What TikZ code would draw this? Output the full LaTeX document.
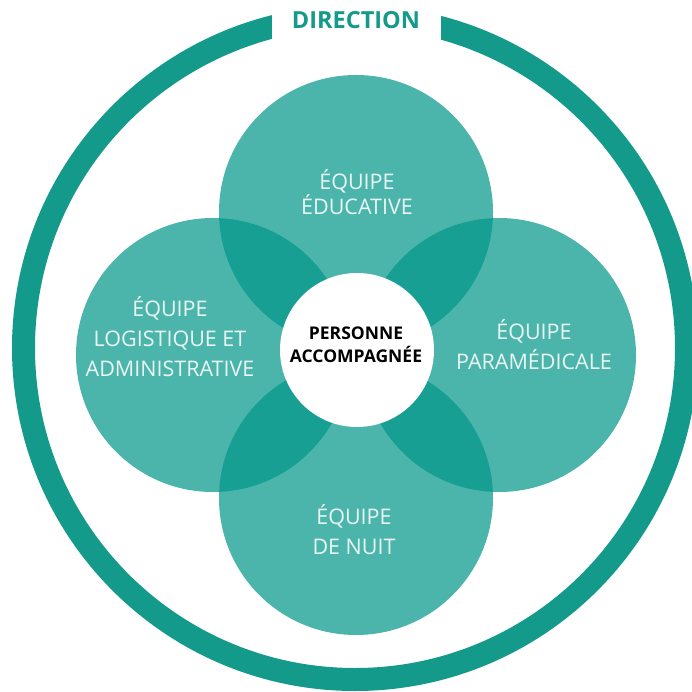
\documentclass[tikz,border=0pt]{standalone}
\usepackage{fontspec}
\setmainfont{Open Sans}
\definecolor{ringteal}{RGB}{20,154,138}
\definecolor{petalteal}{RGB}{0,150,136}
\definecolor{lighttext}{RGB}{234,246,244}
\tikzset{
	petal/.style={fill=petalteal,fill opacity=0.7},
	team/.style={align=center,text=lighttext,font=\fontsize{21.5}{30}\selectfont},
	person/.style={align=center,text=black,font=\bfseries\fontsize{17.5}{23}\selectfont},
	head/.style={text=ringteal,font=\bfseries\fontsize{23.5}{26}\selectfont}
}
\begin{document}
\begin{tikzpicture}[x=1pt,y=-1pt]
	\useasboundingbox (0,0) rectangle (691,692);
	% outer ring with a gap for the title
	\draw [ringteal, line width=23pt] (355,348) circle (331.5);
	\fill [white] (272,-2) rectangle (441,55);
	\node [head] (direction) at (356,20) {DIRECTION};

	% four teams
	\fill [petal] (356,212) circle (137);
	\fill [petal] (213,355) circle (137);
	\fill [petal] (499,355) circle (137);
	\fill [petal] (356,498) circle (137);
	\fill [white] (357,350) circle (77);

	\node [team, font=\fontsize{21.5}{25}\selectfont] (edu) at (357,192) {ÉQUIPE\\ÉDUCATIVE};
	\node [team] (logi) at (170,337) {ÉQUIPE\\LOGISTIQUE ET\\ADMINISTRATIVE};
	\node [team] (para) at (534,345) {ÉQUIPE\\PARAMÉDICALE};
	\node [team] (nuit) at (354,530) {ÉQUIPE\\DE NUIT};
	\node [person] (pers) at (356,345) {PERSONNE\\ACCOMPAGNÉE};
\end{tikzpicture}
\end{document}
